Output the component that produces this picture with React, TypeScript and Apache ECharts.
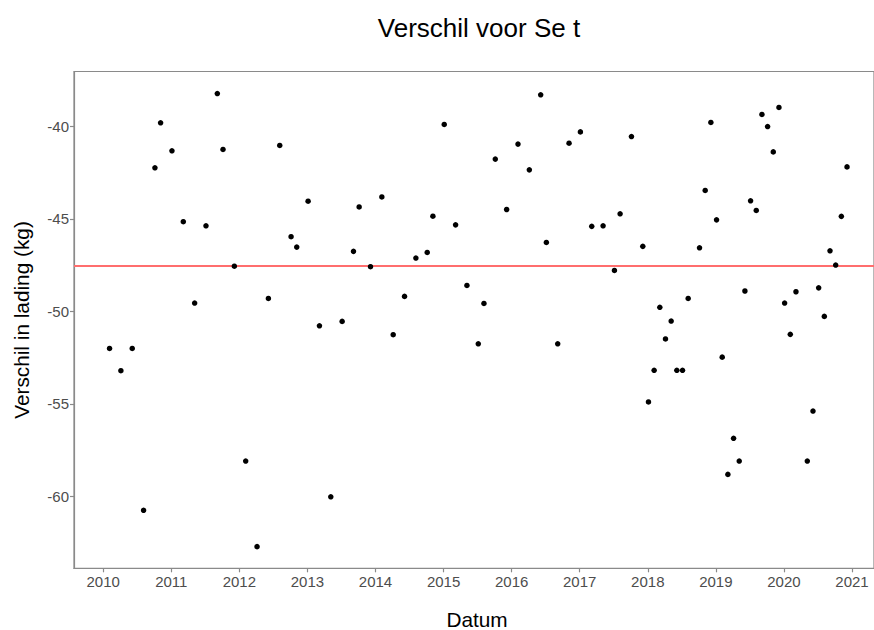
import React, { useEffect, useRef } from "react";
import * as echarts from "echarts";

// Measurement dates (year-month) and difference in load (kg)
const dates: string[] = [
  "2010-02", "2010-04", "2010-06", "2010-08", "2010-10", "2010-11", "2011-01", "2011-03", "2011-05", "2011-07",
  "2011-09", "2011-10", "2011-12", "2012-02", "2012-04", "2012-06", "2012-08", "2012-10", "2012-11", "2013-01",
  "2013-03", "2013-05", "2013-07", "2013-09", "2013-10", "2013-12", "2014-02", "2014-04", "2014-06", "2014-08",
  "2014-10", "2014-11", "2015-01", "2015-03", "2015-05", "2015-07", "2015-08", "2015-10", "2015-12", "2016-02",
  "2016-04", "2016-06", "2016-07", "2016-09", "2016-11", "2017-01", "2017-03", "2017-05", "2017-07", "2017-08",
  "2017-10", "2017-12", "2018-01", "2018-02", "2018-03", "2018-04", "2018-05", "2018-06", "2018-07", "2018-08",
  "2018-10", "2018-11", "2018-12", "2019-01", "2019-02", "2019-03", "2019-04", "2019-05", "2019-06", "2019-07",
  "2019-08", "2019-09", "2019-10", "2019-11", "2019-12", "2020-01", "2020-02", "2020-03", "2020-05", "2020-06",
  "2020-07", "2020-08", "2020-09", "2020-10", "2020-11", "2020-12",
];

const verschil: number[] = [
  -52.0, -53.2, -52.0, -60.74, -42.25, -39.82, -41.33, -45.16, -49.55, -45.38,
  -38.24, -41.26, -47.56, -58.08, -62.7, -49.3, -41.04, -45.97, -46.53, -44.05,
  -50.78, -60.01, -50.54, -46.76, -44.36, -47.59, -43.82, -51.26, -49.19, -47.12,
  -46.82, -44.86, -39.91, -45.33, -48.6, -51.75, -49.57, -41.78, -44.5, -40.97,
  -42.36, -38.31, -46.28, -51.75, -40.92, -40.31, -45.41, -45.38, -47.79, -44.73,
  -40.56, -46.49, -54.89, -53.18, -49.78, -51.49, -50.52, -53.18, -53.18, -49.3,
  -46.57, -43.47, -39.8, -45.06, -52.47, -58.8, -56.85, -58.08, -48.9, -44.03,
  -44.55, -39.37, -40.02, -41.39, -38.99, -49.55, -51.24, -48.94, -58.08, -55.38,
  -48.73, -50.27, -46.73, -47.5, -44.87, -42.2,
];

const meanLine = -47.55;
const xTicks: number[] = [2010, 2011, 2012, 2013, 2014, 2015, 2016, 2017, 2018, 2019, 2020, 2021];
const yTicks: number[] = [-60, -55, -50, -45, -40];

const titleText = "Verschil voor Se t";
const xTitle = "Datum";
const yTitle = "Verschil in lading (kg)";

function toYear(d: string): number {
  const [y, m] = d.split("-").map(Number);
  return y + (m - 1) / 12 + 0.01;
}

export default function App() {
  const ref = useRef<HTMLDivElement>(null);
  useEffect(() => {
    if (!ref.current) return;
    const chart = echarts.init(ref.current, null, { renderer: "svg" });
    const font = "'Liberation Sans', Arial, sans-serif";
    const axisColor = "#8a8a8a";
    chart.setOption({
      animation: false,
      backgroundColor: "#ffffff",
      grid: {
        left: 74,
        top: 71.5,
        right: -2,
        bottom: 61.7,
        show: true,
        borderColor: axisColor,
        borderWidth: 1.2,
        containLabel: false,
      },
      xAxis: {
        type: "value",
        min: 2009.5712,
        max: 2021.2937 + 2 / 68.33,
        axisLine: { show: true, lineStyle: { color: axisColor, width: 1.2 } },
        axisTick: {
          show: true,
          length: 4,
          customValues: xTicks,
          lineStyle: { color: axisColor, width: 1.2 },
        },
        axisLabel: {
          customValues: xTicks,
          color: "#4d4d4d",
          fontSize: 15,
          fontFamily: font,
          margin: 6,
          formatter: (v: number) => String(v),
        },
        splitLine: { show: false },
      },
      yAxis: {
        type: "value",
        min: -63.87,
        max: -37.05,
        axisLine: { show: true, lineStyle: { color: axisColor, width: 1.2 } },
        axisTick: {
          show: true,
          length: 4,
          customValues: yTicks,
          lineStyle: { color: axisColor, width: 1.2 },
        },
        axisLabel: {
          customValues: yTicks,
          color: "#4d4d4d",
          fontSize: 15,
          fontFamily: font,
          margin: 5,
          formatter: (v: number) => String(v),
        },
        splitLine: { show: false },
      },
      series: [
        {
          type: "scatter",
          data: dates.map((d, i) => [toYear(d), verschil[i]]),
          symbol: "circle",
          symbolSize: 5.5,
          itemStyle: { color: "#000000", opacity: 1 },
          z: 3,
          markLine: {
            silent: true,
            symbol: "none",
            label: { show: false },
            lineStyle: { color: "#ff6e6e", width: 1.8, type: "solid" },
            data: [{ yAxis: meanLine }],
            z: 2,
          },
        },
      ],
      graphic: [
        {
          type: "text",
          x: 479,
          y: 28,
          style: {
            text: titleText,
            fontSize: 26,
            fontFamily: font,
            fill: "#000000",
            textAlign: "center",
            textVerticalAlign: "middle",
          },
        },
        {
          type: "text",
          x: 477,
          y: 619,
          style: {
            text: xTitle,
            fontSize: 20.8,
            fontFamily: font,
            fill: "#000000",
            textAlign: "center",
            textVerticalAlign: "middle",
          },
        },
        {
          type: "text",
          x: 21,
          y: 320,
          rotation: Math.PI / 2,
          style: {
            text: yTitle,
            fontSize: 20.8,
            fontFamily: font,
            fill: "#000000",
            textAlign: "center",
            textVerticalAlign: "middle",
          },
        },
      ],
    });
    return () => chart.dispose();
  }, []);
  return (
    <div
      ref={ref}
      style={{ position: "fixed", left: 0, top: 0, width: 874, height: 630 }}
    />
  );
}
